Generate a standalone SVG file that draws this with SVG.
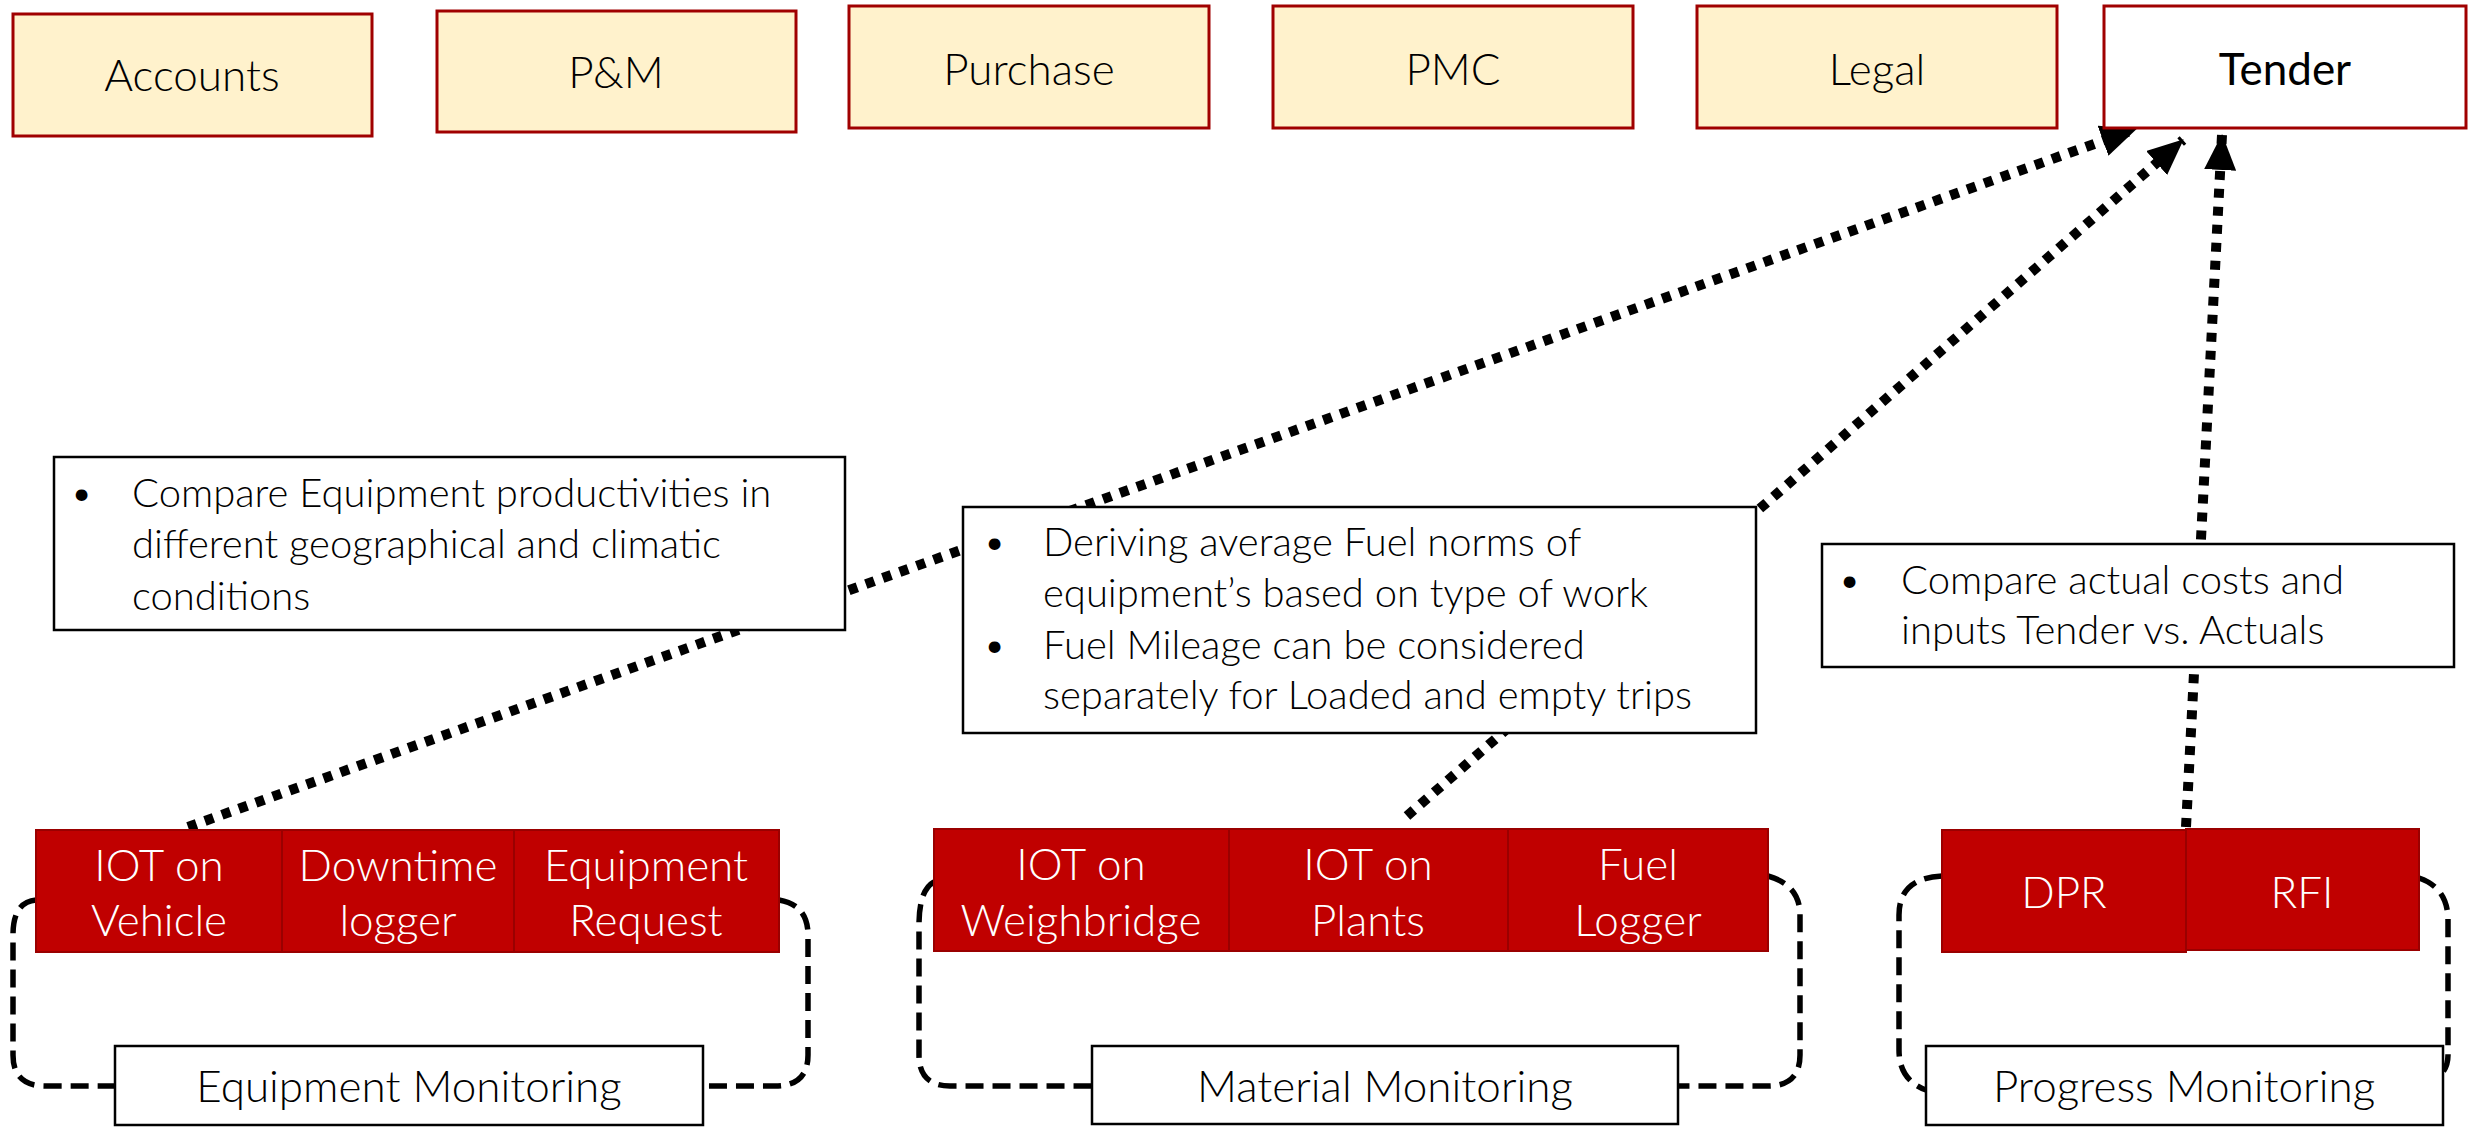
<svg xmlns="http://www.w3.org/2000/svg" width="2471" height="1132" viewBox="0 0 2471 1132">
<defs>
<style>
.top{fill:#FFF2CC;stroke:#A00000;stroke-width:3}
.tender{fill:#FFFFFF;stroke:#A00000;stroke-width:3}
.red{fill:#C00000;stroke:#9A0000;stroke-width:2}
.wbox{fill:#FFFFFF;stroke:#000000;stroke-width:2.5}
text{font-family:Lato,"Liberation Sans",sans-serif;font-weight:300}
.lbl{font-size:44px;fill:#000;text-anchor:middle}
.wt{font-size:44px;fill:#FFFFFF;text-anchor:middle}
.cm{font-size:40px;fill:#000}
.dot{fill:none;stroke:#000;stroke-width:10;stroke-dasharray:9 9}
.loop{fill:none;stroke:#000;stroke-width:5.5;stroke-dasharray:18 9}
</style>
<marker id="ah" viewBox="0 0 36 32" refX="35" refY="16" markerWidth="36" markerHeight="32" markerUnits="userSpaceOnUse" orient="auto">
<path d="M0,0 L36,16 L0,32 z" fill="#000"/>
</marker>
</defs>
<rect width="2471" height="1132" fill="#FFFFFF"/>

<g id="connectors">
<line class="dot" x1="188" y1="827" x2="2136" y2="129" marker-end="url(#ah)"/>
<line class="dot" x1="1407" y1="816" x2="2183" y2="140" marker-end="url(#ah)"/>
<line class="dot" x1="2186" y1="827" x2="2222" y2="135" marker-end="url(#ah)"/>
<path class="loop" d="M36,900 Q13,902 13,935 L13,1055 Q13,1086 45,1086 L115,1086"/>
<path class="loop" d="M779,900 Q808,905 808,935 L808,1055 Q808,1086 775,1086 L703,1086"/>
<path class="loop" d="M934,882 Q919,890 919,925 L919,1055 Q919,1086 950,1086 L1092,1086"/>
<path class="loop" d="M1768,876 Q1800,885 1800,915 L1800,1055 Q1800,1086 1768,1086 L1678,1086"/>
<path class="loop" d="M1942,876 Q1899,878 1899,915 L1899,1050 Q1899,1080 1926,1090"/>
<path class="loop" d="M2419,878 Q2448,888 2448,920 L2448,1055 Q2448,1065 2443,1072"/>
</g>

<g id="accounts"><rect class="top" x="13" y="14" width="359" height="122"/><text class="lbl" x="192" y="91">Accounts</text></g>
<g id="pm"><rect class="top" x="437" y="11" width="359" height="121"/><text class="lbl" x="616" y="88">P&amp;M</text></g>
<g id="purchase"><rect class="top" x="849" y="6" width="360" height="122"/><text class="lbl" x="1029" y="85">Purchase</text></g>
<g id="pmc"><rect class="top" x="1273" y="6" width="360" height="122"/><text class="lbl" x="1453" y="85">PMC</text></g>
<g id="legal"><rect class="top" x="1697" y="6" width="360" height="122"/><text class="lbl" x="1877" y="85">Legal</text></g>
<g id="tender"><rect class="tender" x="2104" y="6" width="362" height="122"/><text class="lbl" x="2285" y="85" style="font-weight:400">Tender</text></g>

<g id="note-equipment">
<rect class="wbox" x="54" y="457" width="791" height="173"/>
<text class="cm" x="70" y="507">•</text>
<text class="cm" x="132" y="507">Compare Equipment productivities in</text>
<text class="cm" x="132" y="558">different geographical and climatic</text>
<text class="cm" x="132" y="610">conditions</text>
</g>
<g id="note-material">
<rect class="wbox" x="963" y="507" width="793" height="226"/>
<text class="cm" x="983" y="556">•</text>
<text class="cm" x="1043" y="556">Deriving average Fuel norms of</text>
<text class="cm" x="1043" y="607">equipment’s based on type of work</text>
<text class="cm" x="983" y="659">•</text>
<text class="cm" x="1043" y="659">Fuel Mileage can be considered</text>
<text class="cm" x="1043" y="709">separately for Loaded and empty trips</text>
</g>
<g id="note-progress">
<rect class="wbox" x="1822" y="544" width="632" height="123"/>
<text class="cm" x="1838" y="594">•</text>
<text class="cm" x="1901" y="594">Compare actual costs and</text>
<text class="cm" x="1901" y="644">inputs Tender vs. Actuals</text>
</g>

<g id="iot-vehicle"><rect class="red" x="36" y="830" width="246" height="122"/><text class="wt" x="159" y="881">IOT on</text><text class="wt" x="159" y="936">Vehicle</text></g>
<g id="downtime-logger"><rect class="red" x="282" y="830" width="232" height="122"/><text class="wt" x="398" y="881">Downtime</text><text class="wt" x="398" y="936">logger</text></g>
<g id="equipment-request"><rect class="red" x="514" y="830" width="265" height="122"/><text class="wt" x="646" y="881">Equipment</text><text class="wt" x="646" y="936">Request</text></g>

<g id="iot-weighbridge"><rect class="red" x="934" y="829" width="295" height="122"/><text class="wt" x="1081" y="880">IOT on</text><text class="wt" x="1081" y="936">Weighbridge</text></g>
<g id="iot-plants"><rect class="red" x="1229" y="829" width="279" height="122"/><text class="wt" x="1368" y="880">IOT on</text><text class="wt" x="1368" y="936">Plants</text></g>
<g id="fuel-logger"><rect class="red" x="1508" y="829" width="260" height="122"/><text class="wt" x="1638" y="880">Fuel</text><text class="wt" x="1638" y="936">Logger</text></g>

<g id="dpr"><rect class="red" x="1942" y="830" width="244" height="122"/><text class="wt" x="2064" y="908">DPR</text></g>
<g id="rfi"><rect class="red" x="2186" y="829" width="233" height="121"/><text class="wt" x="2302" y="908">RFI</text></g>

<g id="equipment-monitoring"><rect class="wbox" x="115" y="1046" width="588" height="79"/><text class="lbl" x="409" y="1102">Equipment Monitoring</text></g>
<g id="material-monitoring"><rect class="wbox" x="1092" y="1046" width="586" height="78"/><text class="lbl" x="1385" y="1102">Material Monitoring</text></g>
<g id="progress-monitoring"><rect class="wbox" x="1926" y="1046" width="517" height="79"/><text class="lbl" x="2184" y="1102">Progress Monitoring</text></g>
</svg>
